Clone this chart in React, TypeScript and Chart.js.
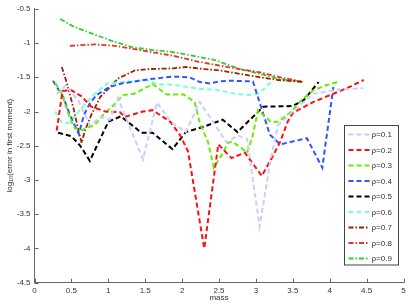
import React, { useEffect, useRef } from "react";
import { Chart, registerables } from "chart.js";
Chart.register(...registerables);

const seriesLabels = ["ρ=0.1", "ρ=0.2", "ρ=0.3", "ρ=0.4", "ρ=0.5", "ρ=0.6", "ρ=0.7", "ρ=0.8", "ρ=0.9"];
const xTicks = [0, 0.5, 1, 1.5, 2, 2.5, 3, 3.5, 4, 4.5, 5];
const yTicks = [-4.5, -4, -3.5, -3, -2.5, -2, -1.5, -1, -0.5];

const mass01 = [0.3, 0.42, 0.6, 0.75, 0.9, 1.02, 1.13, 1.47, 1.66, 1.85, 2.05, 2.24, 2.45, 2.6, 2.75, 2.88, 3.05, 3.2, 3.3, 3.5, 3.78, 4.1, 4.45];
const err01 = [-1.75, -1.62, -1.85, -2.2, -2.08, -2.12, -1.8, -2.7, -1.87, -2.15, -2.3, -1.86, -2.2, -2.45, -2.35, -2.4, -3.68, -2.7, -2.2, -2.0, -1.74, -1.68, -1.66];

const mass02 = [0.3, 0.38, 0.5, 0.64, 0.77, 0.96, 1.16, 1.22, 1.47, 1.6, 1.84, 1.97, 2.08, 2.3, 2.49, 2.67, 2.85, 3.08, 3.23, 3.33, 3.43, 3.5, 3.78, 4.05, 4.23, 4.46];
const err02 = [-2.28, -1.7, -1.69, -1.78, -1.93, -2.0, -2.01, -2.08, -2.0, -1.98, -2.15, -2.34, -2.58, -4.0, -2.48, -2.68, -2.6, -2.94, -2.65, -2.44, -2.15, -2.02, -1.86, -1.74, -1.66, -1.54];

const mass03 = [0.28, 0.37, 0.48, 0.55, 0.65, 0.82, 0.93, 1.05, 1.2, 1.35, 1.6, 1.79, 2.02, 2.17, 2.24, 2.35, 2.43, 2.54, 2.62, 2.68, 2.8, 2.88, 2.95, 3.03, 3.2, 3.3, 3.46, 3.62, 3.78, 3.94, 4.11];
const err03 = [-1.58, -1.74, -2.1, -2.25, -2.27, -2.19, -2.05, -1.93, -1.76, -1.74, -1.6, -1.75, -1.75, -1.86, -2.17, -2.44, -2.82, -2.63, -2.46, -2.44, -2.53, -2.6, -2.38, -1.98, -2.15, -2.15, -2.02, -1.83, -1.69, -1.62, -1.57];

const mass04 = [0.25, 0.39, 0.48, 0.6, 0.67, 0.75, 0.84, 1.02, 1.18, 1.43, 1.61, 1.88, 2.1, 2.24, 2.38, 2.51, 2.65, 2.96, 3.19, 3.33, 3.69, 3.9, 4.05];
const err04 = [-1.55, -1.79, -2.05, -2.33, -2.05, -1.88, -1.76, -1.64, -1.59, -1.55, -1.52, -1.49, -1.5, -1.57, -1.59, -1.56, -1.55, -1.56, -2.34, -2.48, -2.39, -2.82, -1.64];

const mass05 = [0.32, 0.5, 0.62, 0.75, 1.0, 1.17, 1.45, 1.6, 1.87, 2.05, 2.3, 2.55, 2.75, 3.1, 3.5, 3.65, 3.85];
const err05 = [-2.31, -2.36, -2.5, -2.72, -2.15, -2.07, -2.31, -2.31, -2.55, -2.3, -2.22, -2.12, -2.3, -1.93, -1.92, -1.83, -1.57];

const mass06 = [0.28, 0.36, 0.46, 0.68, 0.8, 0.98, 1.2, 1.52, 1.66, 1.88, 2.06, 2.24, 2.45, 2.72, 2.9, 3.03, 3.12, 3.22];
const err06 = [-2.0, -2.15, -2.17, -1.9, -1.76, -1.59, -1.57, -1.54, -1.6, -1.61, -1.64, -1.67, -1.68, -1.74, -1.76, -1.74, -1.66, -1.55];

const mass07 = [0.37, 0.44, 0.53, 0.6, 0.64, 0.68, 0.77, 0.89, 0.98, 1.13, 1.36, 1.56, 1.88, 2.06, 2.3, 2.51, 2.78, 3.06, 3.3, 3.65];
const err07 = [-1.35, -1.59, -1.96, -2.3, -2.46, -2.29, -2.05, -1.79, -1.69, -1.52, -1.4, -1.38, -1.37, -1.35, -1.38, -1.4, -1.45, -1.5, -1.54, -1.57];

const mass08 = [0.48, 0.82, 1.09, 1.36, 1.63, 1.9, 2.21, 2.51, 2.78, 3.06, 3.33, 3.64];
const err08 = [-1.04, -1.02, -1.04, -1.09, -1.14, -1.19, -1.27, -1.33, -1.38, -1.43, -1.5, -1.57];

const mass09 = [0.35, 0.53, 0.8, 1.05, 1.32, 1.59, 1.86, 2.17, 2.45, 2.78, 3.06, 3.33, 3.64];
const err09 = [-0.65, -0.76, -0.87, -0.97, -1.06, -1.1, -1.13, -1.19, -1.25, -1.38, -1.45, -1.53, -1.56];

const allMass = [mass01, mass02, mass03, mass04, mass05, mass06, mass07, mass08, mass09];
const allErr = [err01, err02, err03, err04, err05, err06, err07, err08, err09];

const colors = ["#ccccff", "#ff1010", "#66ee00", "#2f55ff", "#000000", "#77ffdd", "#992200", "#e83322", "#33cc33"];
const DASH = [5, 3];
const DASHDOT = [5, 2, 1.5, 2];
const dashes = [DASH, DASH, DASH, DASH, DASH, DASH, DASHDOT, DASHDOT, DASHDOT];
const widths = [2, 2, 2, 2, 2, 2, 1.8, 1.8, 1.8];

const FONT = { family: "'Liberation Sans', Arial, sans-serif", size: 8 };
const TEXT = "#333333";
const AXIS = "#666666";

const inwardTicks = {
  id: "inwardTicks",
  afterDatasetsDraw(chart: any) {
    const { ctx, chartArea, scales } = chart;
    ctx.save();
    ctx.strokeStyle = AXIS;
    ctx.lineWidth = 1;
    ctx.beginPath();
    xTicks.forEach((t) => {
      const px = Math.round(scales.x.getPixelForValue(t)) + 0.5;
      ctx.moveTo(px, chartArea.bottom);
      ctx.lineTo(px, chartArea.bottom - 4);
    });
    yTicks.forEach((t) => {
      const py = Math.round(scales.y.getPixelForValue(t)) + 0.5;
      ctx.moveTo(chartArea.left, py);
      ctx.lineTo(chartArea.left + 4, py);
    });
    ctx.stroke();
    ctx.restore();
  },
};

const boxLegend = {
  id: "boxLegend",
  afterDraw(chart: any) {
    const { ctx, chartArea } = chart;
    const w = 54;
    const h = 139.5;
    const x0 = Math.round(chartArea.right - 5.5 - w) + 0.5;
    const y0 = 125.5;
    ctx.save();
    ctx.fillStyle = "#ffffff";
    ctx.fillRect(x0, y0, w, h);
    ctx.strokeStyle = "#444444";
    ctx.lineWidth = 1;
    ctx.setLineDash([]);
    ctx.strokeRect(x0, y0, w, h);
    ctx.font = `${FONT.size}px ${FONT.family}`;
    ctx.textBaseline = "middle";
    ctx.textAlign = "left";
    chart.data.datasets.forEach((ds: any, i: number) => {
      const y = y0 + 9 + i * 15.5;
      ctx.beginPath();
      ctx.setLineDash(ds.borderDash);
      ctx.strokeStyle = ds.borderColor;
      ctx.lineWidth = ds.borderWidth;
      ctx.moveTo(x0 + 4, y);
      ctx.lineTo(x0 + 25, y);
      ctx.stroke();
      ctx.setLineDash([]);
      ctx.fillStyle = TEXT;
      ctx.fillText(ds.label, x0 + 27, y + 0.5);
    });
    ctx.restore();
  },
};

const fmt = (v: any) => String(Number(v));

export default function App() {
  const ref = useRef<HTMLCanvasElement | null>(null);
  useEffect(() => {
    if (!ref.current) return;
    const datasets = seriesLabels.map((label, i) => ({
      label,
      data: allMass[i].map((m, j) => ({ x: m, y: allErr[i][j] })),
      borderColor: colors[i],
      backgroundColor: colors[i],
      borderDash: dashes[i],
      borderWidth: widths[i],
      pointRadius: 0,
      tension: 0,
      fill: false,
    }));
    const chart = new Chart(ref.current, {
      type: "line",
      data: { datasets },
      options: {
        animation: false,
        responsive: false,
        maintainAspectRatio: false,
        layout: { padding: { top: 6, right: 5.5, left: 0, bottom: 0 } },
        plugins: { legend: { display: false }, tooltip: { enabled: false } },
        scales: {
          x: {
            type: "linear",
            min: 0,
            max: 5,
            afterBuildTicks: (s: any) => {
              s.ticks = xTicks.map((v) => ({ value: v }));
            },
            ticks: { font: FONT, color: TEXT, padding: 3, maxRotation: 0, autoSkip: false, callback: fmt },
            grid: { display: false, drawTicks: false },
            border: { display: true, color: AXIS, width: 1 },
            title: { display: true, text: "mass", font: FONT, color: TEXT, padding: { top: 0, bottom: 2 } },
            afterFit: (s: any) => {
              s.height = 22.3;
            },
          },
          y: {
            type: "linear",
            min: -4.5,
            max: -0.5,
            afterBuildTicks: (s: any) => {
              s.ticks = yTicks.map((v) => ({ value: v }));
            },
            ticks: { font: FONT, color: TEXT, padding: 4, autoSkip: false, callback: fmt },
            grid: { display: false, drawTicks: false },
            border: { display: true, color: AXIS, width: 1 },
            title: {
              display: true,
              text: "log₁₀(error in first moment)",
              font: FONT,
              color: TEXT,
              padding: { top: 5, bottom: 0 },
            },
            afterFit: (s: any) => {
              s.width = 34.5;
            },
          },
        },
      },
      plugins: [inwardTicks, boxLegend],
    } as any);
    return () => chart.destroy();
  }, []);
  return (
    <div style={{ position: "absolute", left: 0, top: 0, width: 409, height: 305, background: "#fff" }}>
      <canvas ref={ref} width={409} height={305} style={{ display: "block" }} />
    </div>
  );
}
